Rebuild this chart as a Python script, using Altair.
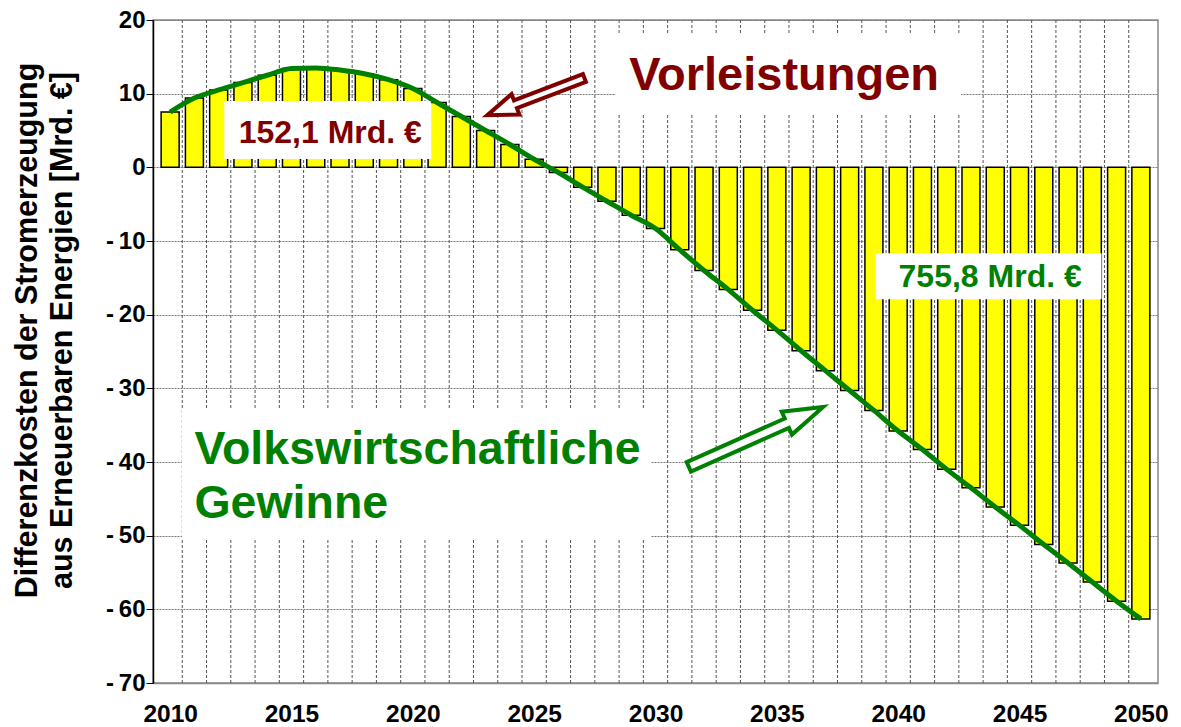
import altair as alt
import pandas as pd

FONT = "Liberation Sans"

# ---- data ----
years = list(range(2010, 2051))
values = [7.5, 9.4, 10.5, 11.5, 12.5, 13.4, 13.5, 13.2, 12.7, 11.9,
          10.7, 8.8, 6.9, 5.0, 3.1, 1.1, -0.7, -2.7, -4.6, -6.5,
          -8.3, -11.2, -14.0, -16.6, -19.4, -22.1, -24.9, -27.6, -30.3, -33.0,
          -35.8, -38.3, -41.0, -43.5, -46.1, -48.6, -51.2, -53.7, -56.3, -58.9,
          -61.3]
x_tick_labels = [2010, 2015, 2020, 2025, 2030, 2035, 2040, 2045, 2050]
y_ticks = [-70, -60, -50, -40, -30, -20, -10, 0, 10, 20]
y_title = ["Differenzkosten der Stromerzeugung", "aus Erneuerbaren Energien [Mrd. €]"]

# annotation texts
txt_pos_sum = "152,1 Mrd. €"
txt_neg_sum = "755,8 Mrd. €"
txt_vor = "Vorleistungen"
txt_volks = ["Volkswirtschaftliche", "Gewinne"]

DARKRED = "#800000"
GREEN = "#008000"

df = pd.DataFrame({"year": years, "value": values})
grid_df = pd.DataFrame({"year": [y + 0.5 for y in years[:-1]]})

xscale = alt.Scale(domain=[2009.5, 2050.5], nice=False, zero=False)
yscale = alt.Scale(domain=[-70, 20], nice=False)

X_AXIS = alt.Axis(values=x_tick_labels, format="d", title=None,
                  labelFont=FONT, labelFontSize=24.5, labelFontWeight="bold",
                  labelColor="black", ticks=False, labelPadding=19,
                  domainColor="#888", domainWidth=1.5, grid=False)
Y_AXIS = alt.Axis(values=y_ticks, title=y_title,
                  labelExpr="datum.value < 0 ? '-\u2009' + abs(datum.value) : '' + datum.value",
                  labelFont=FONT, labelFontSize=24, labelFontWeight="bold",
                  labelColor="black", tickColor="black", tickSize=7, labelPadding=1,
                  domainColor="black", domainWidth=1.5,
                  grid=True, gridColor="#777", gridDash=[2, 1], gridWidth=1,
                  titleFont=FONT, titleFontSize=30.5, titleFontWeight="bold",
                  titleColor="black", titleLineHeight=35, titleAngle=270,
                  titleBaseline="bottom", titleX=-111, titleY=310)


def X(field="year"):
    return alt.X(f"{field}:Q", scale=xscale, axis=X_AXIS)


def Y(field="value"):
    return alt.Y(f"{field}:Q", scale=yscale, axis=Y_AXIS)


# vertical grid lines between the bars
vgrid = alt.Chart(grid_df).mark_rule(color="#555", strokeDash=[3, 2], strokeWidth=1).encode(
    x=X()
)

bars = alt.Chart(df).mark_bar(size=18, color="#FFFF00", stroke="black", strokeWidth=1.5).encode(
    x=X(), y=Y()
)

line = alt.Chart(df).mark_line(color=GREEN, strokeWidth=5, interpolate="monotone").encode(
    x=X(), y=Y()
)


def box(x1, x2, y1, y2):
    d = pd.DataFrame({"year": [x1], "year2": [x2], "value": [y1], "value2": [y2]})
    return alt.Chart(d).mark_rect(color="white").encode(
        x=X(), x2="year2:Q", y=Y(), y2="value2:Q",
    )


def label(txt, x, y, color, size, align="center"):
    d = pd.DataFrame({"year": [x], "value": [y], "t": [txt]})
    return alt.Chart(d).mark_text(font=FONT, fontWeight="bold", fontSize=size, color=color,
                                  align=align, baseline="alphabetic").encode(
        x=X(), y=Y(), text="t:N",
    )


def arrow(x, y, path, size, angle, color, sw):
    d = pd.DataFrame({"year": [x], "value": [y]})
    return alt.Chart(d).mark_point(shape=path, size=size, angle=angle, filled=True,
                                   fill="white", stroke=color, strokeWidth=sw, opacity=1,
                                   fillOpacity=1).encode(
        x=X(), y=Y(),
    )


red_arrow_path = "M -1 -0.08 L 0.42 -0.08 L 0.42 -0.21 L 1 0 L 0.42 0.21 L 0.42 0.08 L -1 0.08 Z"
green_arrow_path = "M -1 -0.07 L 0.46 -0.07 L 0.46 -0.17 L 1 0 L 0.46 0.17 L 0.46 0.07 L -1 0.07 Z"

layers = [
    vgrid,
    bars,
    box(2012.23, 2020.76, 1.13, 9.0),
    box(2028.35, 2042.59, 7.1, 18.23),
    box(2039.08, 2048.38, -17.9, -11.65),
    box(2010.48, 2029.82, -50.4, -32.8),
    line,
    label(txt_pos_sum, 2016.6, 3.3, DARKRED, 32),
    label(txt_neg_sum, 2043.79, -16.25, GREEN, 32),
    label(txt_vor, 2035.3, 10.5, DARKRED, 47),
    label(txt_volks[0], 2011.0, -40.26, GREEN, 46.5, align="left"),
    label(txt_volks[1], 2011.0, -47.6, GREEN, 46.5, align="left"),
    arrow(2025.07, 9.61, red_arrow_path, 10816, 159, DARKRED, 4),
    arrow(2034.14, -36.6, green_arrow_path, 21609, 336, GREEN, 4),
]

chart = alt.layer(*layers).properties(
    width=1005, height=663,
    autosize=alt.AutoSizeParams(type="none"),
    padding={"left": 145, "top": 12, "right": 15, "bottom": 44},
    background="white",
).configure_view(stroke="#888", strokeWidth=1.5)

chart.save("out.html", embed_options={"renderer": "svg", "actions": False})
